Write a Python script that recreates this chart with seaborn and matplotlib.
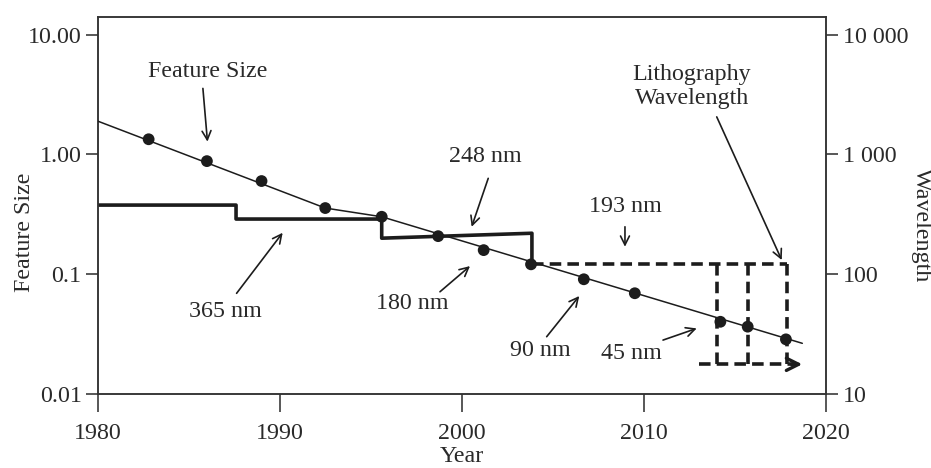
import numpy as np
import pandas as pd
import matplotlib
matplotlib.use("Agg")
import matplotlib.pyplot as plt
from matplotlib.ticker import NullLocator, FixedLocator, FixedFormatter
import seaborn as sns

# ---------------- data ----------------
dot_years = [1982.8, 1986.0, 1989.0, 1992.5, 1995.6, 1998.7, 2001.2, 2003.8,
             2006.7, 2009.5, 2014.2, 2015.7, 2017.8]
dot_sizes = [1.34, 0.88, 0.60, 0.357, 0.302, 0.208, 0.159, 0.121,
             0.0908, 0.0694, 0.0401, 0.0365, 0.0286]

trend_years = [1980.0, 1992.5, 1995.6, 2018.7]
trend_sizes = [1.90, 0.357, 0.302, 0.0265]

litho_years = [1980.0, 1987.6, 1987.6, 1995.6, 1995.6, 2003.85, 2003.85]
litho_nm = [378, 378, 289, 289, 200, 220, 122]

future_seg = [0, 0, 1, 1, 2, 2, 3, 3, 4, 4]
future_years = [2003.85, 2017.85, 2014.0, 2014.0, 2015.7, 2015.7,
                2017.85, 2017.85, 2013.0, 2018.3]
future_nm = [122, 122, 122, 17.7, 122, 17.7, 122, 17.7, 17.7, 17.7]
arrow_end_year = 2018.7

x_ticks = [1980, 1990, 2000, 2010, 2020]
left_ticks = [0.01, 0.1, 1.0, 10.0]
left_tick_labels = ["0.01", "0.1", "1.00", "10.00"]
right_ticks = [10, 100, 1000, 10000]
right_tick_labels = ["10", "100", "1 000", "10 000"]

ann_texts = ["Feature Size", "365 nm", "248 nm", "180 nm", "193 nm",
             "90 nm", "45 nm", "Lithography\nWavelength"]
ann_text_pos = [(1986.07, 4.90), (1986.99, 0.0487), (2001.27, 0.957),
                (1997.25, 0.0571), (2008.96, 0.366), (2004.29, 0.0233),
                (2009.29, 0.0216), (2012.64, 3.70)]
ann_arrow_from = [(1985.78, 3.56), (1987.63, 0.0693), (2001.45, 0.632),
                  (1998.80, 0.0714), (2008.96, 0.249), (2004.66, 0.0301),
                  (2011.05, 0.0282), (2014.0, 2.06)]
ann_arrow_to = [(1986.03, 1.28), (1990.16, 0.222), (2000.54, 0.249),
                (2000.45, 0.117), (2008.96, 0.1696), (2006.45, 0.0658),
                (2012.90, 0.0353), (2017.57, 0.1314)]

# ---------------- style ----------------
sns.set_theme(style="white")
plt.rcParams["font.family"] = ["Liberation Serif", "DejaVu Serif"]
INK = "#1c1c1c"
TXT = "#2a2a2a"
FS = 17.3

fig = plt.figure(figsize=(9.31, 4.68), dpi=100)
ax = fig.add_axes([0.1049, 0.1581, 0.7823, 0.8056])
ax2 = ax.twinx()

ymin, ymax = 0.01, 14.06
ax.set_yscale("log")
ax2.set_yscale("log")
ax.set_xlim(1980, 2020)
ax.set_ylim(ymin, ymax)
ax2.set_ylim(ymin * 1000, ymax * 1000)

# feature size trend + dots
trend_df = pd.DataFrame({"year": trend_years, "size": trend_sizes})
sns.lineplot(data=trend_df, x="year", y="size", ax=ax, color=INK, lw=1.1,
             estimator=None, sort=False, zorder=3)
dots_df = pd.DataFrame({"year": dot_years, "size": dot_sizes})
sns.scatterplot(data=dots_df, x="year", y="size", ax=ax, color=INK, s=72,
                edgecolor="none", zorder=5, clip_on=False)

# lithography wavelength step line
litho_df = pd.DataFrame({"year": litho_years, "nm": litho_nm})
sns.lineplot(data=litho_df, x="year", y="nm", ax=ax2, color=INK, lw=2.6,
             estimator=None, sort=False, zorder=2)
fut_df = pd.DataFrame({"seg": future_seg, "year": future_years, "nm": future_nm})
sns.lineplot(data=fut_df, x="year", y="nm", units="seg", ax=ax2, color=INK,
             lw=2.6, estimator=None, sort=False, zorder=2)
for ln in ax2.get_lines()[1:]:
    ln.set_dashes((3.2, 1.7))
ax2.annotate("", xy=(arrow_end_year, future_nm[-1]),
             xytext=(future_years[-1] - 0.2, future_nm[-1]),
             arrowprops=dict(arrowstyle="->", lw=2.4, color=INK,
                             mutation_scale=22, shrinkA=0, shrinkB=0))

# bring primary axis on top so dots are over the step lines
ax.set_zorder(ax2.get_zorder() + 1)
ax.patch.set_visible(False)

# annotations
for t, p, a0, a1 in zip(ann_texts, ann_text_pos, ann_arrow_from, ann_arrow_to):
    ax.text(p[0], p[1], t, ha="center", va="center", fontsize=FS, color=TXT,
            linespacing=1.15)
    ax.annotate("", xy=a1, xytext=a0,
                arrowprops=dict(arrowstyle="->", lw=1.2, color=INK,
                                mutation_scale=16, shrinkA=0, shrinkB=0))

# ticks
ax.xaxis.set_major_locator(FixedLocator(x_ticks))
ax.yaxis.set_major_locator(FixedLocator(left_ticks))
ax.yaxis.set_major_formatter(FixedFormatter(left_tick_labels))
ax.yaxis.set_minor_locator(NullLocator())
ax2.yaxis.set_major_locator(FixedLocator(right_ticks))
ax2.yaxis.set_major_formatter(FixedFormatter(right_tick_labels))
ax2.yaxis.set_minor_locator(NullLocator())

ax.tick_params(axis="x", direction="out", length=13, width=1.1, pad=8,
               labelsize=FS, colors=TXT, bottom=True)
ax.tick_params(axis="y", direction="out", length=8.6, width=1.1, pad=3,
               labelsize=FS, colors=TXT, left=True)
ax2.tick_params(axis="y", direction="out", length=8.6, width=1.1, pad=3.6,
                labelsize=FS, colors=TXT, right=True)

for a in (ax, ax2):
    for sp in a.spines.values():
        sp.set_color("#333333")
        sp.set_linewidth(1.1)
        sp.set_visible(True)

ax.set_xlabel("Year", fontsize=FS, color=TXT, va="center")
ax.xaxis.set_label_coords(0.5002, -0.166)
ax.set_ylabel("Feature Size", fontsize=FS, color=TXT, va="center")
ax.yaxis.set_label_coords(-0.100, 0.43)
ax2.set_ylabel("Wavelength", fontsize=FS, color=TXT, rotation=270, va="center")
ax2.yaxis.set_label_coords(1.1305, 0.447)

fig.savefig("out.png", dpi=100, facecolor="white")
